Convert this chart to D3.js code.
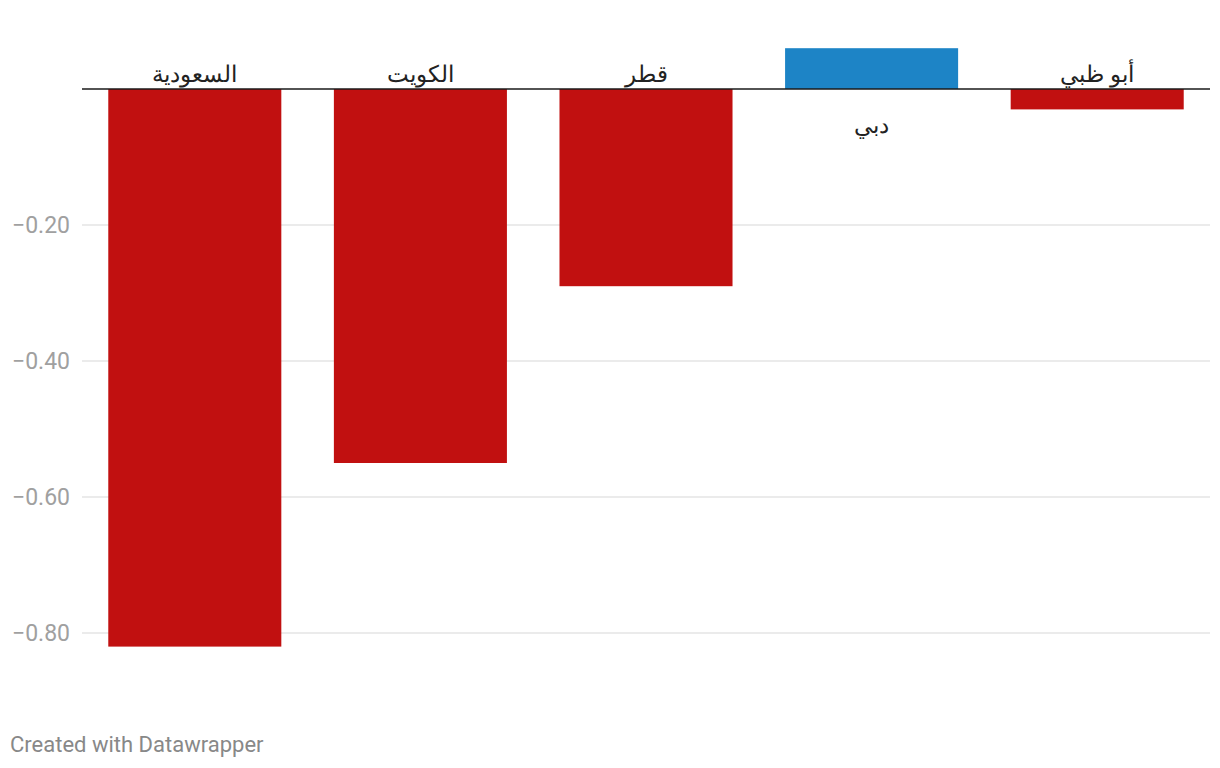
<!DOCTYPE html>
<html>
<head>
<meta charset="utf-8">
<script src="https://cdn.jsdelivr.net/npm/d3@7"></script>
<style>
  html, body { margin: 0; padding: 0; background: #fff; }
  svg { display: block; font-family: Roboto, "Noto Sans", sans-serif; }
</style>
</head>
<body>
<svg id="chart" width="1220" height="768"></svg>
<script>
const categories = ["السعودية", "الكويت", "قطر", "دبي", "أبو ظبي"];
const values = [-0.82, -0.55, -0.29, 0.06, -0.03];
const tickValues = [-0.2, -0.4, -0.6, -0.8];
const tickLabels = ["−0.20", "−0.40", "−0.60", "−0.80"];

const svg = d3.select("#chart");
const left = 82, right = 1210;

const x = d3.scaleBand().domain(categories).range([left, right])
  .paddingInner(0.233).paddingOuter(0.1165);
const y = d3.scaleLinear().domain([0, -1]).range([89, 769]);

// gridlines
svg.append("g").selectAll("line").data(tickValues).join("line")
  .attr("x1", left).attr("x2", right)
  .attr("y1", d => y(d)).attr("y2", d => y(d))
  .attr("stroke", "#e5e5e5").attr("stroke-width", 1.5);

// tick labels
svg.append("g").selectAll("text").data(tickValues).join("text")
  .attr("x", 70).attr("y", d => y(d))
  .attr("dy", "0.36em")
  .attr("text-anchor", "end")
  .attr("fill", "#a0a0a0")
  .attr("font-size", 23)
  .text((d, i) => tickLabels[i]);

const data = categories.map((c, i) => ({ c, v: values[i] }));

// bars
svg.append("g").selectAll("rect").data(data).join("rect")
  .attr("x", d => x(d.c))
  .attr("width", x.bandwidth())
  .attr("y", d => Math.min(y(d.v), y(0)))
  .attr("height", d => Math.abs(y(d.v) - y(0)))
  .attr("fill", d => d.v >= 0 ? "#1d84c6" : "#c11010");

// baseline
svg.append("line")
  .attr("x1", left).attr("x2", right)
  .attr("y1", y(0)).attr("y2", y(0))
  .attr("stroke", "#1a1a1a").attr("stroke-width", 1.5);

// category labels
svg.append("g").selectAll("text").data(data).join("text")
  .attr("x", d => x(d.c) + x.bandwidth() / 2)
  .attr("y", d => d.v < 0 ? y(0) - 7 : y(0) + 44)
  .attr("text-anchor", "middle")
  .attr("direction", "rtl")
  .attr("fill", "#222")
  .attr("font-size", 23)
  .text(d => d.c);

// footer
svg.append("text")
  .attr("x", 10).attr("y", 752)
  .attr("fill", "#888")
  .attr("font-size", 22)
  .text("Created with Datawrapper");
</script>
</body>
</html>
